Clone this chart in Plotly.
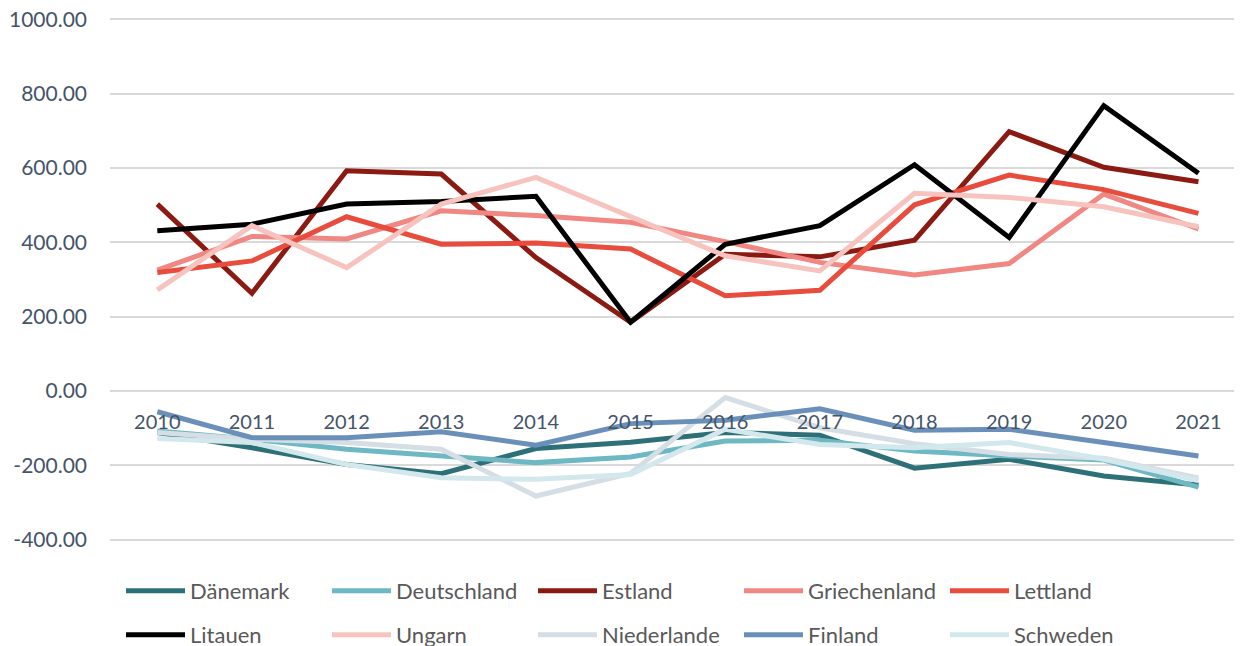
import plotly.graph_objects as go

years = ["2010", "2011", "2012", "2013", "2014", "2015", "2016", "2017", "2018", "2019", "2020", "2021"]

daenemark = [-112, -153, -198, -223, -155, -138, -112, -119, -208, -184, -229, -253]
deutschland = [-108, -130, -157, -175, -193, -178, -135, -133, -162, -175, -186, -259]
estland = [503, 263, 593, 584, 359, 185, 368, 361, 406, 698, 602, 563]
griechenland = [325, 416, 409, 485, 472, 454, 402, 346, 312, 343, 530, 436]
lettland = [319, 350, 469, 395, 398, 382, 256, 271, 501, 581, 542, 478]
litauen = [431, 449, 503, 510, 524, 185, 395, 445, 609, 413, 768, 586]
ungarn = [272, 445, 332, 503, 575, 470, 364, 323, 532, 521, 496, 442]
niederlande = [-112, -130, -139, -157, -283, -222, -18, -99, -142, -171, -181, -234]
finland = [-56, -126, -126, -110, -146, -88, -79, -48, -106, -103, -139, -175]
schweden = [-128, -139, -198, -234, -238, -225, -103, -144, -153, -139, -184, -241]

y_ticks = [-400, -200, 0, 200, 400, 600, 800, 1000]
y_ticktext = ["%.2f" % v for v in y_ticks]

series = [
    ("Dänemark", daenemark, "#2E7077", "legend"),
    ("Deutschland", deutschland, "#6DB8C2", "legend"),
    ("Estland", estland, "#8B1A12", "legend"),
    ("Griechenland", griechenland, "#F08782", "legend"),
    ("Lettland", lettland, "#E84C3D", "legend"),
    ("Litauen", litauen, "#000000", "legend2"),
    ("Ungarn", ungarn, "#F7C3BE", "legend2"),
    ("Niederlande", niederlande, "#D6DEE5", "legend2"),
    ("Finland", finland, "#6A90BA", "legend2"),
    ("Schweden", schweden, "#D2E8EC", "legend2"),
]

fig = go.Figure()
for name, vals, color, lg in series:
    fig.add_trace(go.Scatter(
        x=years, y=vals, name=name, mode="lines",
        line=dict(color=color, width=5),
        legend=lg, hoverinfo="x+y+name",
    ))

FONT = "Lato, 'Noto Sans', sans-serif"
ymin, ymax = -404, 1004
zero_pos = (0 - ymin) / (ymax - ymin)

# page body has an 8px margin, so the figure is drawn 8px in/down
W, H = 1234, 638

legend_common = dict(
    orientation="h",
    xanchor="left",
    yanchor="middle",
    xref="container",
    yref="container",
    x=113 / W,
    font=dict(family=FONT, size=22, color="#595959"),
    itemwidth=59,
    entrywidth=132,
    entrywidthmode="pixels",
    bgcolor="rgba(0,0,0,0)",
    traceorder="normal",
)

fig.update_layout(
    template="none",
    width=W, height=H,
    margin=dict(l=102, r=0, t=10, b=105, autoexpand=False),
    paper_bgcolor="white",
    plot_bgcolor="white",
    font=dict(family=FONT),
    showlegend=True,
    legend=dict(legend_common, y=1 - 583 / H),
    legend2=dict(legend_common, y=1 - 627 / H),
    xaxis=dict(
        type="category",
        range=[-0.5, 11.46],
        anchor="free",
        position=zero_pos,
        showgrid=False,
        showline=False,
        zeroline=False,
        automargin=False,
        ticks="",
        ticklabelstandoff=17,
        ticklabeloverflow="allow",
        tickfont=dict(family=FONT, size=20, color="#44546A"),
    ),
    yaxis=dict(
        range=[ymin, ymax],
        tickvals=y_ticks,
        ticktext=y_ticktext,
        showgrid=True,
        gridcolor="#D9D9D9",
        gridwidth=1.5,
        zeroline=False,
        showline=False,
        automargin=False,
        ticks="",
        ticklabelstandoff=22,
        ticklabeloverflow="allow",
        tickfont=dict(family=FONT, size=21, color="#44546A"),
    ),
)

fig.write_html("out.html")
